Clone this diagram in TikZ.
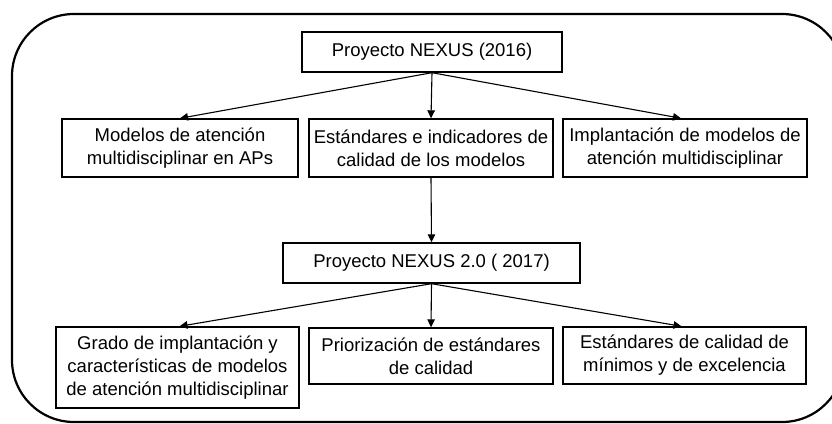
\documentclass[tikz,border=0pt]{standalone}
\usepackage{fontspec}
\setmainfont{Liberation Sans}
\usetikzlibrary{arrows.meta}
\begin{document}
\begin{tikzpicture}[x=1pt,y=-1pt,
  box/.style={draw, line width=1.4pt, align=center, inner sep=0pt,
    font=\fontsize{18.5}{23}\selectfont},
  arr/.style={line width=1.1pt, -{Triangle[length=8pt,width=7.5pt]}}]
\useasboundingbox (0,0) rectangle (832,423);
\begin{scope}
\clip (0,0) rectangle (832,423);
\draw[line width=2.2pt, rounded corners=62pt] (12,14) rectangle (844,422);
\end{scope}
\node[box, minimum width=260pt, minimum height=40pt] (p1) at (432,52) {Proyecto NEXUS (2016)};
\node[box, minimum width=236pt, minimum height=58pt] (a1) at (180,148) {Modelos de atención\\multidisciplinar en APs};
\node[box, minimum width=244pt, minimum height=58pt] (a2) at (431,148) {Estándares e indicadores de\\calidad de los modelos};
\node[box, minimum width=244pt, minimum height=58pt] (a3) at (685,148) {Implantación de modelos de\\atención multidisciplinar};
\node[box, minimum width=297pt, minimum height=40pt] (p2) at (431.5,263) {Proyecto NEXUS 2.0 ( 2017)};
\node[box, minimum width=243pt, minimum height=81pt] (b1) at (177.5,367.5) {Grado de implantación y\\características de modelos\\de atención multidisciplinar};
\node[box, minimum width=244pt, minimum height=56pt] (b2) at (431,356) {Priorización de estándares\\de calidad};
\node[box, minimum width=243pt, minimum height=57pt] (b3) at (684.5,355.5) {Estándares de calidad de\\mínimos y de excelencia};
\draw[arr] (p1.south) -- (a1.north);
\draw[arr] (p1.south) -- (a2.north);
\draw[arr] (p1.south) -- ([xshift=-4pt]a3.north);
\draw[arr] (a2.south) -- (p2.north);
\draw[arr] (p2.south) -- ([xshift=2pt]b1.north);
\draw[arr] (p2.south) -- (b2.north);
\draw[arr] (p2.south) -- ([xshift=-3pt]b3.north);
\end{tikzpicture}
\end{document}
